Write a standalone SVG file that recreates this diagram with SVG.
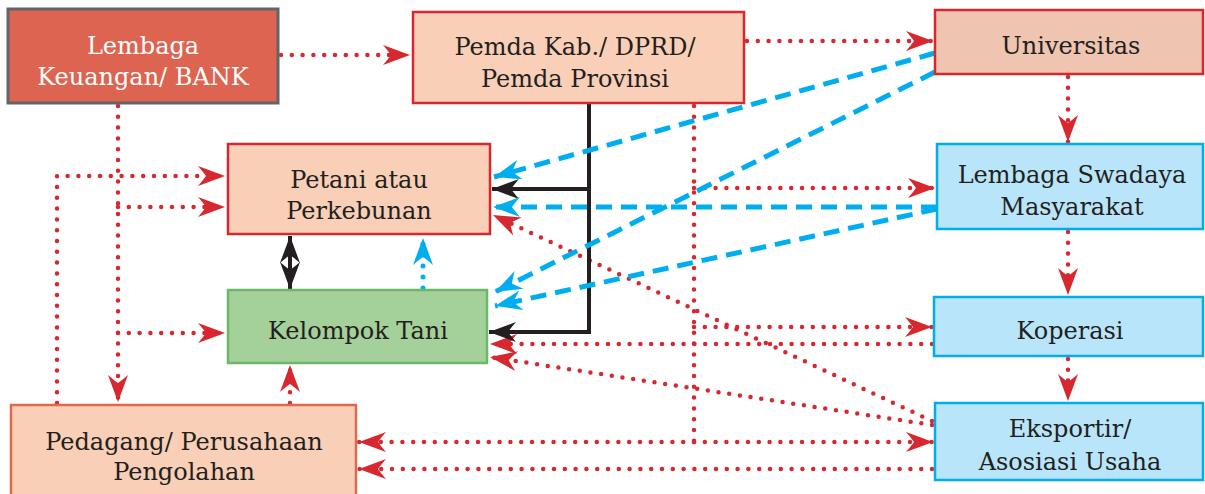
<svg xmlns="http://www.w3.org/2000/svg" width="1205" height="494" viewBox="0 0 1205 494">
<style>
.t{font-family:"DejaVu Serif","Liberation Serif",serif;font-size:24px;fill:#231f20;text-anchor:middle}
.w{fill:#ffffff}
.box{stroke-width:2.5}
.rd{fill:none;stroke:#d7282f;stroke-width:4.5;stroke-linecap:round;stroke-dasharray:0 10.8}
.bk{fill:none;stroke:#231f20;stroke-width:4}
.bl{fill:none;stroke:#00aeef;stroke-width:5;stroke-dasharray:16 9}
.bd{fill:none;stroke:#00aeef;stroke-width:5;stroke-linecap:round;stroke-dasharray:0 11}
</style>
<defs>
<marker id="ar" markerUnits="userSpaceOnUse" markerWidth="30" markerHeight="24" viewBox="-28 -12 30 24" refX="0" refY="0" orient="auto-start-reverse" overflow="visible">
<path d="M0,0 L-27,-10 Q-21,-3 -19,0 Q-21,3 -27,10 Z" fill="#d7282f"/>
</marker>
<marker id="ak" markerUnits="userSpaceOnUse" markerWidth="30" markerHeight="24" viewBox="-28 -12 30 24" refX="0" refY="0" orient="auto-start-reverse" overflow="visible">
<path d="M0,0 L-27,-10 Q-21,-3 -19,0 Q-21,3 -27,10 Z" fill="#231f20"/>
</marker>
<marker id="ab" markerUnits="userSpaceOnUse" markerWidth="30" markerHeight="24" viewBox="-28 -12 30 24" refX="0" refY="0" orient="auto-start-reverse" overflow="visible">
<path d="M0,0 L-27,-10 Q-21,-3 -19,0 Q-21,3 -27,10 Z" fill="#00aeef"/>
</marker>
</defs>
<rect width="1205" height="494" fill="#ffffff"/>

<g id="connectors">
<!-- red dotted -->
<path class="rd" d="M281,55 H410" marker-end="url(#ar)"/>
<path class="rd" d="M747,41 H933" marker-end="url(#ar)"/>
<path class="rd" d="M118,106 V402" marker-end="url(#ar)"/>
<path class="rd" d="M118,207 H225" marker-end="url(#ar)"/>
<path class="rd" d="M118,333 H225" marker-end="url(#ar)"/>
<path class="rd" d="M57,403 V176 H225" marker-end="url(#ar)"/>
<path class="rd" d="M290,403 V365" marker-end="url(#ar)"/>
<path class="rd" d="M694,106 V442"/>
<path class="rd" d="M694,188 H935" marker-end="url(#ar)"/>
<path class="rd" d="M694,327 H932" marker-end="url(#ar)"/>
<path class="rd" d="M694,442 H933" marker-end="url(#ar)"/>
<path class="rd" d="M694,442 H359" marker-end="url(#ar)"/>
<path class="rd" d="M932,469 H359" marker-end="url(#ar)"/>
<path class="rd" d="M932,344 H490" marker-end="url(#ar)"/>
<path class="rd" d="M932,425 L490,357" marker-end="url(#ar)"/>
<path class="rd" d="M932,421 L493,215" marker-end="url(#ar)"/>
<path class="rd" d="M1068,77 V142" marker-end="url(#ar)"/>
<path class="rd" d="M1068,232 V295" marker-end="url(#ar)"/>
<path class="rd" d="M1068,359 V401" marker-end="url(#ar)"/>
<!-- black solid -->
<path class="bk" d="M589,104 V332 H489" marker-end="url(#ak)"/>
<path class="bk" d="M589,189 H492" marker-end="url(#ak)"/>
<path class="bk" d="M290,236 V289" marker-start="url(#ak)" marker-end="url(#ak)"/>
<!-- blue dashed -->
<path class="bl" d="M935,53 L494,177" marker-end="url(#ab)"/>
<path class="bl" d="M935,72 L495,292" marker-end="url(#ab)"/>
<path class="bl" d="M937,207 H493" marker-end="url(#ab)"/>
<path class="bl" d="M937,209 L495,306" marker-end="url(#ab)"/>
<!-- blue dotted -->
<path class="bd" d="M423,288 V238" marker-end="url(#ab)"/>
</g>

<g id="bank">
<rect x="8" y="9" width="270" height="94" fill="#dd6450" stroke="#636466" stroke-width="3"/>
<text class="t w" x="143" y="54">Lembaga</text>
<text class="t w" x="143" y="85">Keuangan/ BANK</text>
</g>
<g id="pemda">
<rect class="box" x="413" y="12" width="331" height="91" fill="#f9cfb7" stroke="#d7282f"/>
<text class="t" x="575" y="55">Pemda Kab./ DPRD/</text>
<text class="t" x="575" y="87">Pemda Provinsi</text>
</g>
<g id="universitas">
<rect class="box" x="935" y="10" width="268" height="64" fill="#efc4b0" stroke="#d7282f"/>
<text class="t" x="1071" y="54">Universitas</text>
</g>
<g id="petani">
<rect class="box" x="228" y="144" width="262" height="90" fill="#f9cfb7" stroke="#d7282f"/>
<text class="t" x="359" y="188">Petani atau</text>
<text class="t" x="359" y="219">Perkebunan</text>
</g>
<g id="kelompok">
<rect class="box" x="228" y="290" width="259" height="73" fill="#a4d09a" stroke="#6cb86a"/>
<text class="t" x="358" y="339">Kelompok Tani</text>
</g>
<g id="lsm">
<rect class="box" x="937" y="144" width="266" height="85" fill="#b9e5fa" stroke="#00aeef"/>
<text class="t" x="1072" y="183">Lembaga Swadaya</text>
<text class="t" x="1072" y="215">Masyarakat</text>
</g>
<g id="koperasi">
<rect class="box" x="934" y="297" width="269" height="59" fill="#b9e5fa" stroke="#00aeef"/>
<text class="t" x="1070" y="339">Koperasi</text>
</g>
<g id="eksportir">
<rect class="box" x="935" y="403" width="268" height="77" fill="#b9e5fa" stroke="#00aeef"/>
<text class="t" x="1070" y="437">Eksportir/</text>
<text class="t" x="1070" y="470">Asosiasi Usaha</text>
</g>
<g id="pedagang">
<rect class="box" x="11" y="405" width="345" height="100" fill="#f9cfb7" stroke="#e2674f"/>
<text class="t" x="184" y="450">Pedagang/ Perusahaan</text>
<text class="t" x="184" y="480">Pengolahan</text>
</g>
</svg>
